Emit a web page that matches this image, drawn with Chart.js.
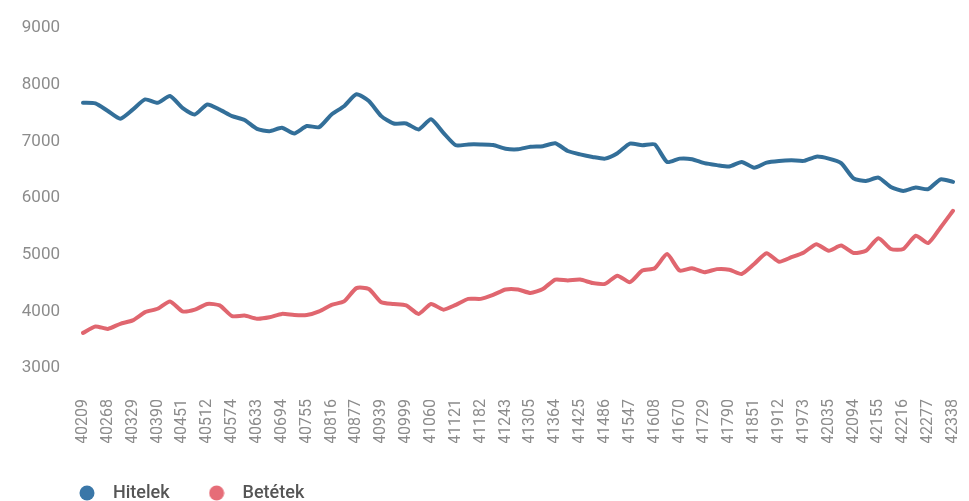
<!DOCTYPE html>
<html>
<head>
<meta charset="utf-8">
<script src="https://cdn.jsdelivr.net/npm/chart.js@4"></script>
<style>
  html, body { margin: 0; padding: 0; background: #fff; }
  #wrap { width: 969px; height: 501px; position: relative; }
</style>
</head>
<body>
<div id="wrap"><canvas id="lineChart"></canvas></div>
<script>
// month-end dates as Excel serials, Jan 2010 - Nov 2015
const dates = [
  40209, 40237, 40268, 40298, 40329, 40359, 40390, 40421, 40451, 40482, 40512, 40543,
  40574, 40602, 40633, 40663, 40694, 40724, 40755, 40786, 40816, 40847, 40877, 40908,
  40939, 40968, 40999, 41029, 41060, 41090, 41121, 41152, 41182, 41213, 41243, 41274,
  41305, 41333, 41364, 41394, 41425, 41455, 41486, 41517, 41547, 41578, 41608, 41639,
  41670, 41698, 41729, 41759, 41790, 41820, 41851, 41882, 41912, 41943, 41973, 42004,
  42035, 42063, 42094, 42124, 42155, 42185, 42216, 42247, 42277, 42308, 42338,
];

const hitelek = [
  7680, 7670, 7535, 7400, 7560, 7740, 7680, 7800, 7590, 7475, 7650, 7560,
  7445, 7375, 7220, 7180, 7240, 7140, 7270, 7250, 7475, 7620, 7830, 7710,
  7445, 7315, 7315, 7210, 7390, 7150, 6930, 6945, 6945, 6935, 6870, 6860,
  6905, 6915, 6965, 6830, 6770, 6725, 6695, 6790, 6960, 6930, 6945, 6635,
  6695, 6685, 6615, 6580, 6555, 6635, 6535, 6625, 6655, 6665, 6655, 6730,
  6695, 6615, 6345, 6300, 6360, 6195, 6125, 6185, 6155, 6330, 6285,
];

const betetek = [
  3620, 3733, 3690, 3780, 3840, 3985, 4045, 4175, 4000, 4030, 4130, 4105,
  3915, 3925, 3870, 3895, 3955, 3935, 3935, 4000, 4115, 4175, 4410, 4395,
  4160, 4130, 4105, 3955, 4130, 4030, 4115, 4220, 4220, 4290, 4385, 4385,
  4325, 4395, 4560, 4545, 4560, 4500, 4485, 4630, 4515, 4720, 4760, 5010,
  4720, 4760, 4690, 4745, 4735, 4660, 4835, 5025, 4875, 4955, 5040, 5185,
  5070, 5160, 5030, 5070, 5290, 5100, 5100, 5335, 5205, 5480, 5775,
];

const seriesNames = ["Hitelek", "Betétek"];
const yTicks = [3000, 4000, 5000, 6000, 7000, 8000, 9000];

const blue = "#336f99";
const red = "#e0666f";

// round dot for the legend
function dot(color) {
  const c = document.createElement("canvas");
  c.width = 16;
  c.height = 16;
  const g = c.getContext("2d");
  g.fillStyle = color;
  g.beginPath();
  g.arc(8, 8, 7.5, 0, Math.PI * 2);
  g.fill();
  return c;
}

// nudge legend to where the original sits
const legendShift = {
  id: "legendShift",
  afterLayout(chart) {
    chart.legend.left += 40;
    chart.legend.top += 11;
  },
};

const tickFont = { family: "Roboto, 'Liberation Sans', sans-serif", size: 16 };

new Chart(document.getElementById("lineChart"), {
  type: "line",
  data: {
    labels: dates,
    datasets: [
      {
        label: seriesNames[0],
        data: hitelek,
        borderColor: blue,
        backgroundColor: blue,
        borderWidth: 4,
        pointRadius: 0,
        pointStyle: dot("#3a77a8"),
        tension: 0.2,
        borderJoinStyle: "round",
        borderCapStyle: "round",
      },
      {
        label: seriesNames[1],
        data: betetek,
        borderColor: red,
        backgroundColor: red,
        borderWidth: 4,
        pointRadius: 0,
        pointStyle: dot("#e66d78"),
        tension: 0.2,
        borderJoinStyle: "round",
        borderCapStyle: "round",
      },
    ],
  },
  plugins: [legendShift],
  options: {
    responsive: true,
    maintainAspectRatio: false,
    animation: false,
    layout: { padding: { top: 28, left: 0, right: 16, bottom: 0 } },
    scales: {
      x: {
        grid: { display: false, drawTicks: false },
        border: { display: false },
        afterFit: (axis) => {
          axis.height = 75;
          axis.paddingLeft = 0;
          axis.paddingRight = 0;
        },
        ticks: {
          autoSkip: false,
          minRotation: 90,
          maxRotation: 90,
          padding: 31,
          color: "#8c8c8c",
          font: tickFont,
          callback: (val, i) => (i % 2 === 0 ? String(dates[i]) : ""),
        },
      },
      y: {
        min: yTicks[0],
        max: yTicks[yTicks.length - 1],
        grid: { display: false, drawTicks: false },
        border: { display: false },
        afterFit: (axis) => {
          axis.width = 83;
          axis.paddingTop = 0;
          axis.paddingBottom = 0;
        },
        afterBuildTicks: (axis) => { axis.ticks = yTicks.map((v) => ({ value: v })); },
        ticks: {
          padding: 23,
          color: "#8c8c8c",
          font: { family: "Roboto, 'Liberation Sans', sans-serif", size: 17 },
          callback: (v) => String(v),
        },
      },
    },
    plugins: {
      tooltip: { enabled: false },
      legend: {
        position: "bottom",
        align: "start",
        labels: {
          usePointStyle: true,
          pointStyleWidth: 34,
          padding: 30,
          color: "#555",
          font: { family: "Roboto, sans-serif", size: 18, weight: "500" },
        },
      },
    },
  },
});
</script>
</body>
</html>
